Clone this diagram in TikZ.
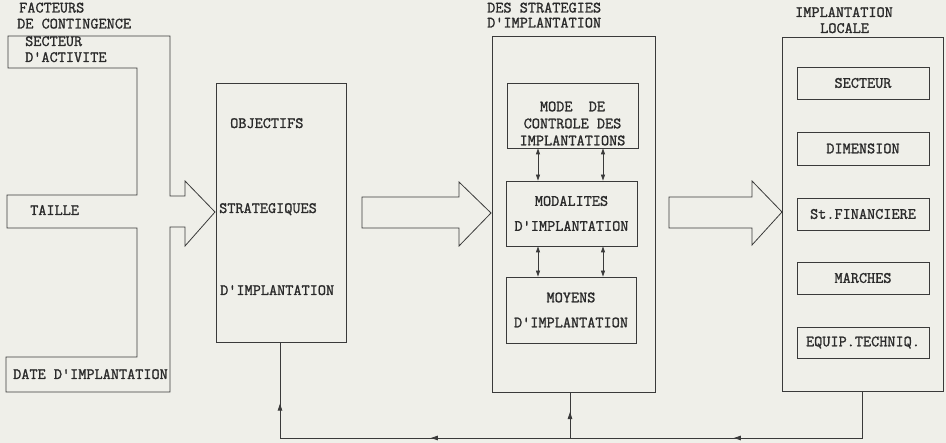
\documentclass[tikz,border=0pt]{standalone}
\usepackage{fontspec}
\usetikzlibrary{arrows.meta, decorations.markings}
\setmonofont{Latin Modern Mono}[FakeBold=1.3]
\definecolor{paper}{HTML}{EFEFE9}
\definecolor{ink}{HTML}{3A3A3A}
\definecolor{txt}{HTML}{2A2A2A}

\begin{document}
\begin{tikzpicture}[
  x=1pt, y=-1pt,
  font=\ttfamily\fontsize{15.8}{17}\selectfont,
  every node/.style={text=txt},
  box/.style={draw=ink, line width=0.8pt, align=center, inner sep=0pt},
  lbl/.style={anchor=west, inner sep=0pt, text height=0.6em, text depth=0pt},
  outline/.style={draw=ink, line width=0.8pt, line join=miter},
  fbline/.style={draw=ink, line width=0.8pt},
  dbl/.style={{Triangle[length=6pt,width=4pt]}-{Triangle[length=6pt,width=4pt]},
              draw=ink, line width=0.8pt},
  midarrow/.style={postaction={decorate}, decoration={markings,
    mark=at position #1 with {\arrow{Triangle[length=7pt,width=4.5pt]}}}},
]
\useasboundingbox (0,0) rectangle (946,443);
\fill[paper] (0,0) rectangle (946,443);

% ------------------------ contingency factors -----------------------------
\node[lbl] (factT1) at (19,9.5) {FACTEURS};
\node[lbl] (factT2) at (17,25.5) {DE CONTINGENCE};

% the comb of three factors, ending in the push towards the objectives
\draw[outline] (8,36) -- (170,36) -- (170,196) -- (185,196) -- (185,181)
  -- (215,212) -- (185,246) -- (185,227) -- (170,227) -- (170,392)
  -- (6,392) -- (6,357) -- (137,357) -- (137,228) -- (7,228) -- (7,195)
  -- (137,195) -- (137,68) -- (8,68) -- cycle;

\node[lbl] (sect1) at (25,43) {SECTEUR};
\node[lbl] (sect2) at (25,59) {D'ACTIVITE};
\node[lbl] (taille) at (30,212) {TAILLE};
\node[lbl] (date) at (13,376) {DATE D'IMPLANTATION};

% ---------------------------- objectives ----------------------------------
\node[box, minimum width=130pt, minimum height=259pt] (obj) at (281,212.5) {};
\node[lbl] (objT1) at (230,125) {OBJECTIFS};
\node[lbl] (objT2) at (219,210) {STRATEGIQUES};
\node[lbl] (objT3) at (220,292) {D'IMPLANTATION};

% ---------------------------- big arrows ----------------------------------
\draw[outline] (362,197) -- (459,197) -- (459,182) -- (491,213)
  -- (459,246) -- (459,228) -- (362,228) -- cycle;
\draw[outline] (669,197) -- (752,197) -- (752,181) -- (782,212)
  -- (752,245) -- (752,228) -- (669,228) -- cycle;

% ------------------------- implantation strategies ------------------------
\node[lbl] (midT1) at (487,9.5) {DES STRATEGIES};
\node[lbl] (midT2) at (487,24.5) {D'IMPLANTATION};

\node[box, minimum width=163pt, minimum height=356pt] (mid) at (573.5,214) {};

\node[box, minimum width=131pt, minimum height=65pt] (mode) at (572.5,115.5) {};
\node[align=center, inner sep=0pt] (modeT) at (572.5,123.5)
  {MODE~~DE\\CONTROLE DES\\IMPLANTATIONS};

\node[box, minimum width=131pt, minimum height=65pt] (modal) at (571.5,213.5)
  {MODALITES\\[8pt]D'IMPLANTATION};

\node[box, minimum width=130pt, minimum height=66pt] (moyens) at (571,310)
  {MOYENS\\[8pt]D'IMPLANTATION};

\draw[dbl] ([xshift=-34.5pt]mode.south) -- ([xshift=-33.5pt]modal.north);
\draw[dbl] ([xshift=30.5pt]mode.south) -- ([xshift=31.5pt]modal.north);
\draw[dbl] ([xshift=-33.5pt]modal.south) -- ([xshift=-33pt]moyens.north);
\draw[dbl] ([xshift=31.5pt]modal.south) -- ([xshift=32pt]moyens.north);

% ---------------------------- local implantation --------------------------
\node[lbl] (locT1) at (795,14) {IMPLANTATION};
\node[lbl] (locT2) at (820,30) {LOCALE};

\node[box, minimum width=161pt, minimum height=354pt] (loc) at (862.5,214) {};

\node[box, minimum width=132pt, minimum height=32pt] (secteur) at (863,83) {SECTEUR};
\node[box, minimum width=132pt, minimum height=33pt] (dim) at (863,148.5) {DIMENSION};
\node[box, minimum width=132pt, minimum height=32pt] (fin) at (863,214) {St.FINANCIERE};
\node[box, minimum width=132pt, minimum height=32pt] (marches) at (863,278) {MARCHES};
\node[box, minimum width=132pt, minimum height=31pt] (equip) at (863,342.5) {EQUIP.TECHNIQ.};

% ---------------------------- feedback ------------------------------------
\coordinate (base) at (0,438);
\draw[fbline] (loc.south) -- (loc.south |- base);
\draw[fbline, midarrow=0.44] (loc.south |- base) -- ([xshift=-3.5pt]mid.south |- base);
\draw[fbline, midarrow=0.48] ([xshift=-3.5pt]mid.south |- base) -- ([xshift=-1pt]obj.south |- base);
\draw[fbline, midarrow=0.57] ([xshift=-3.5pt]mid.south |- base) -- ([xshift=-3.5pt]mid.south);
\draw[fbline, midarrow=0.36] ([xshift=-1pt]obj.south |- base) -- ([xshift=-1pt]obj.south);

\end{tikzpicture}
\end{document}
